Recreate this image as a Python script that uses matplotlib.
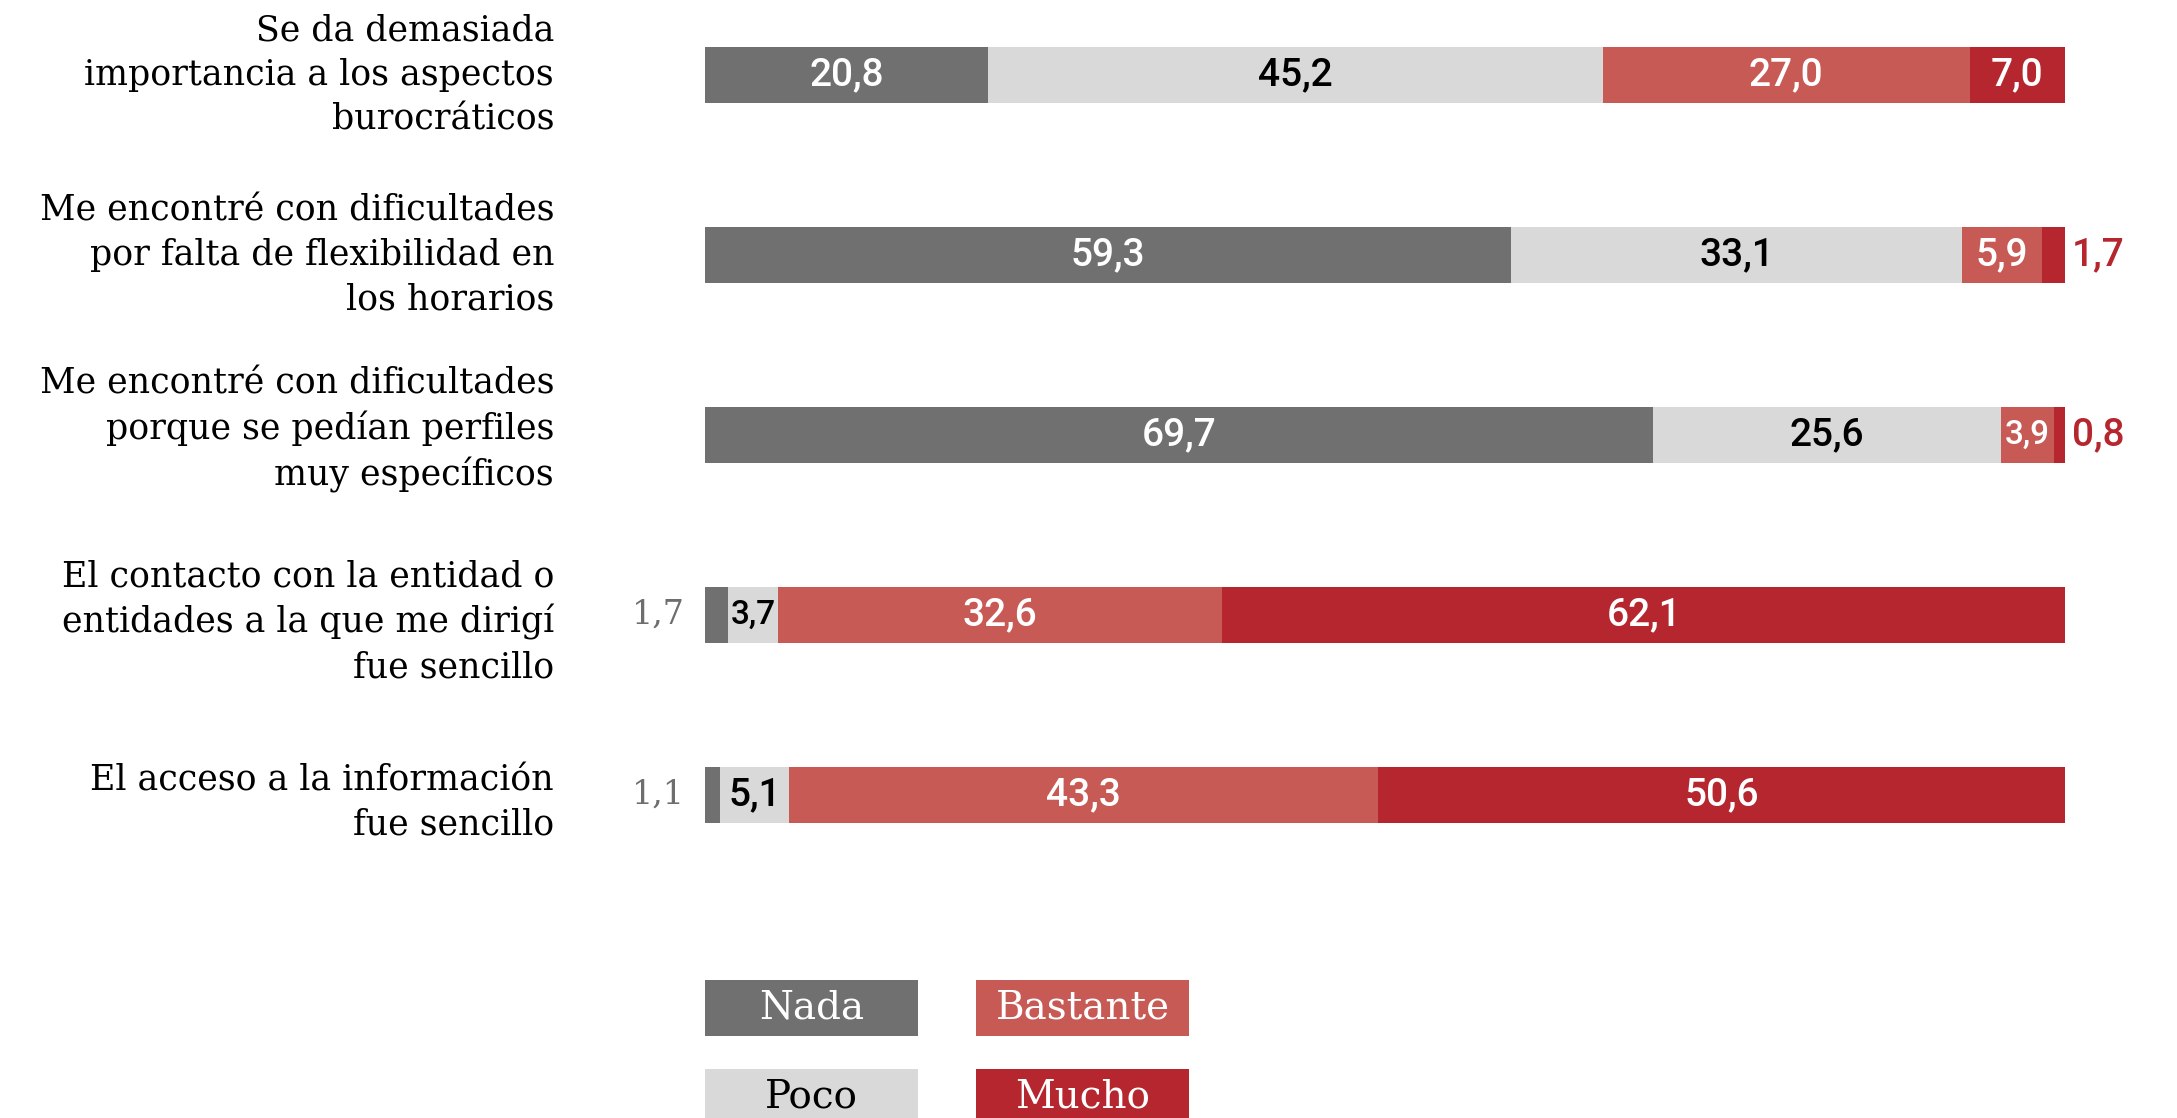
import matplotlib
matplotlib.use('Agg')
import matplotlib.pyplot as plt
from matplotlib.patches import Rectangle
import numpy as np

# data
categories = [
    'Se da demasiada\nimportancia a los aspectos\nburocráticos',
    'Me encontré con dificultades\npor falta de flexibilidad en\nlos horarios',
    'Me encontré con dificultades\nporque se pedían perfiles\nmuy específicos',
    'El contacto con la entidad o\nentidades a la que me dirigí\nfue sencillo',
    'El acceso a la información\nfue sencillo',
]
nada = [20.8, 59.3, 69.7, 1.7, 1.1]
poco = [45.2, 33.1, 25.6, 3.7, 5.1]
bastante = [27.0, 5.9, 3.9, 32.6, 43.3]
mucho = [7.0, 1.7, 0.8, 62.1, 50.6]

series_names = ['Nada', 'Poco', 'Bastante', 'Mucho']
colors = ['#707070', '#d9d9d9', '#c85a56', '#b5262e']
text_colors = ['white', 'black', 'white', 'white']

slab = 'DejaVu Serif'
num = 'Roboto'

# small vertical nudges of the row labels, as in the original layout
label_nudge = [0.0, 0.0, -0.03, 0.04, 0.04]

W, H = 2177, 1118
fig = plt.figure(figsize=(W / 100, H / 100), dpi=100)
fig.patch.set_facecolor('white')

# axes placed in pixel terms: bars from x=705 to x=2065
ax = fig.add_axes([705 / W, (H - 885) / H, 1360 / W, 882 / H])
ax.set_xlim(0, 100)
ax.set_ylim(4.5, -0.4)
ax.axis('off')

y = np.arange(len(categories))
data = [nada, poco, bastante, mucho]
left = np.zeros(len(categories))
for s, (vals, col, tcol) in enumerate(zip(data, colors, text_colors)):
    vals = np.array(vals)
    ax.barh(y, vals, left=left, height=0.31, color=col, edgecolor='none')
    for i, v in enumerate(vals):
        lab = f'{v:.1f}'.replace('.', ',')
        if v < 2 and s == 0:
            ax.text(left[i] - 1.5, y[i], lab, ha='right', va='center',
                    fontsize=24, color='#6e6e6e', family=slab)
        elif v < 2 and s == 3:
            ax.text(left[i] + v + 0.5, y[i], lab, ha='left', va='center',
                    fontsize=28, color='#b5262e', family=num, fontweight='medium')
        else:
            fs = 28 if v >= 5 else 24
            ax.text(left[i] + v / 2, y[i], lab, ha='center', va='center',
                    fontsize=fs, color=tcol, family=num, fontweight='medium')
    left += vals

# category labels
for i, cat in enumerate(categories):
    ax.text(-11.1, y[i] + label_nudge[i], cat, ha='right', va='center', fontsize=25,
            family=slab, linespacing=1.38, color='black')

# legend boxes (figure pixels)
legend_pos = [(705, 980), (705, 1069), (976, 980), (976, 1069)]
for (px, py), name, col, tcol in zip(legend_pos, series_names, colors, text_colors):
    fig.add_artist(Rectangle((px / W, (H - py - 56) / H), 213 / W, 56 / H,
                             transform=fig.transFigure, color=col, lw=0))
    fig.text((px + 106.5) / W, (H - py - 28) / H, name, ha='center', va='center',
             fontsize=28, family=slab, color=tcol)

fig.savefig('out.png', dpi=100, facecolor='white')
